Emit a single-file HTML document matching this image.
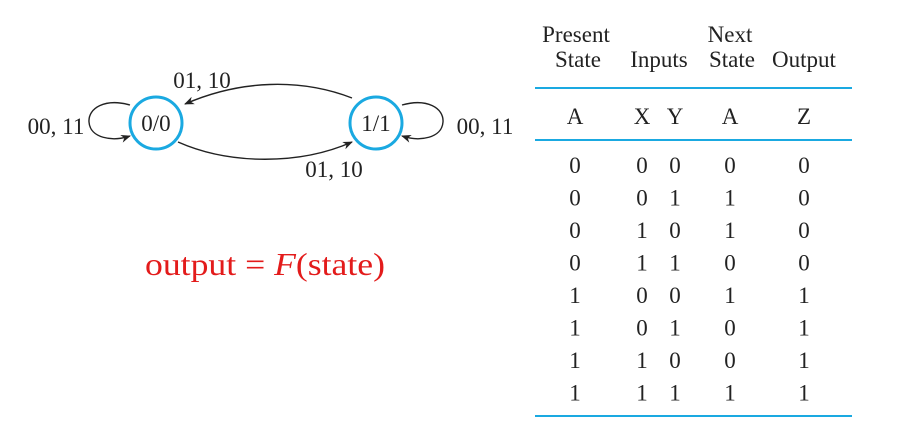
<!DOCTYPE html>
<html><head><meta charset="utf-8"><style>
html,body{margin:0;padding:0;background:#fff;}
svg{display:block;font-family:"Liberation Serif",serif;}
</style></head><body>
<svg width="915" height="425" viewBox="0 0 915 425">
<defs><marker id="ah" viewBox="0 0 10 10" refX="9" refY="5" markerWidth="10" markerHeight="10" orient="auto-start-reverse" markerUnits="userSpaceOnUse"><path d="M0,1 L10,5 L0,9 L3,5 Z" fill="#222"/></marker></defs>
<g>
<path d="M130,105 C105,98 88,108 89,122 C90,138 112,142 130,136" fill="none" stroke="#222" stroke-width="1.4" marker-end="url(#ah)"/>
<path d="M402,105 C427,98 444,108 443,122 C442,138 420,142 402,136" fill="none" stroke="#222" stroke-width="1.4" marker-end="url(#ah)"/>
<path d="M352,98 C300,78 240,80 185,104" fill="none" stroke="#222" stroke-width="1.4" marker-end="url(#ah)"/>
<path d="M178,142 C230,165 300,165 352,142" fill="none" stroke="#222" stroke-width="1.4" marker-end="url(#ah)"/>
<circle cx="156" cy="123" r="26" fill="#fff" stroke="#1aa9e1" stroke-width="3"/>
<circle cx="376" cy="123" r="26" fill="#fff" stroke="#1aa9e1" stroke-width="3"/>
<g font-size="23" fill="#222" text-anchor="middle">
<text x="156" y="131">0/0</text>
<text x="376" y="131">1/1</text>
<text x="56" y="134">00, 11</text>
<text x="485" y="134">00, 11</text>
<text x="202" y="88">01, 10</text>
<text x="334" y="177">01, 10</text>
</g>
<text x="145" y="275" font-size="32" fill="#e31b1b" textLength="240" lengthAdjust="spacingAndGlyphs">output = <tspan font-style="italic">F</tspan>(state)</text>
</g>
<g font-size="23" fill="#222" text-anchor="middle">
<text x="576" y="42">Present</text><text x="578" y="67">State</text>
<text x="659" y="67">Inputs</text>
<text x="730" y="42">Next</text><text x="732" y="67">State</text>
<text x="804" y="67">Output</text>
<line x1="535" y1="88" x2="852" y2="88" stroke="#1aa9e1" stroke-width="2"/>
<text x="575" y="124">A</text><text x="642" y="124">X</text><text x="675" y="124">Y</text><text x="730" y="124">A</text><text x="804" y="124">Z</text>
<line x1="535" y1="140" x2="852" y2="140" stroke="#1aa9e1" stroke-width="2"/>
<g id="rows"></g>
<line x1="535" y1="416" x2="852" y2="416" stroke="#1aa9e1" stroke-width="2"/>
</g>
</svg>
<script>
const presentA=[0,0,0,0,1,1,1,1];
const inputX=[0,0,1,1,0,0,1,1];
const inputY=[0,1,0,1,0,1,0,1];
const nextA=[0,1,1,0,1,0,0,1];
const outZ=[0,0,0,0,1,1,1,1];
const g=document.getElementById('rows');
const cols=[[575,presentA],[642,inputX],[675,inputY],[730,nextA],[804,outZ]];
for(let i=0;i<presentA.length;i++){
  const y=173+i*32.5;
  for(const [x,arr] of cols){
    const t=document.createElementNS('http://www.w3.org/2000/svg','text');
    t.setAttribute('x',x);t.setAttribute('y',y);
    
    
    t.textContent=arr[i];
    g.appendChild(t);
  }
}
</script>
</body></html>
